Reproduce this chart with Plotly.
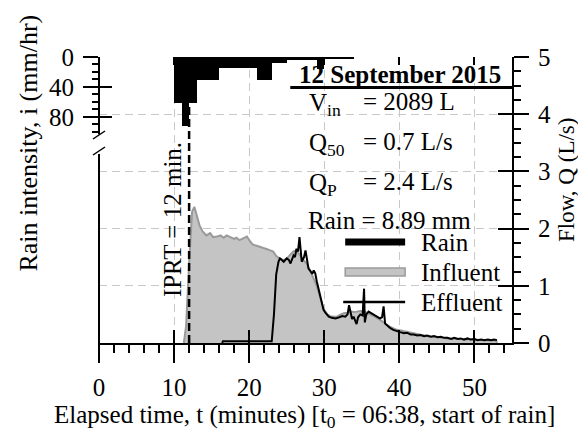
import plotly.graph_objects as go

# ---------------- data ----------------
rain_start = [10, 11, 12, 13, 16, 21, 23, 25, 29, 30]
rain_end   = [11, 12, 13, 16, 21, 23, 25, 29, 30, 34]
rain_i     = [62, 92, 62, 31, 15, 31, 8, 4, 16, 2]   # mm/hr

inf_t = [11.3, 11.6, 12.0, 12.4, 12.7, 13.0, 13.4, 13.8, 14.3, 14.8, 15.2, 15.7, 16.2,
         16.6, 17.0, 17.5, 18.0, 18.3, 18.7, 19.2, 19.7, 20.1, 20.5, 21.0, 21.5, 21.9,
         22.4, 22.8, 23.2, 23.6, 24.0, 24.6, 25.0, 25.5, 25.9, 26.3, 26.8, 27.2, 27.6,
         28.1, 28.5, 29.0, 29.5, 29.9, 30.4, 30.8, 31.3, 31.7, 32.2, 32.6, 33.1, 33.5,
         34.0, 34.4, 34.8, 35.3, 35.7, 36.1, 36.6, 37.0, 37.5, 38.0, 38.4, 38.8, 39.3,
         39.7, 40.2, 41.0, 41.9, 43.0, 44.2, 45.3, 46.4, 47.5, 48.6, 49.7, 50.9, 52.0,
         52.9, 53.0]
inf_q = [0.0, 0.3, 1.4, 2.3, 2.38, 2.25, 2.05, 1.95, 1.88, 1.92, 1.85, 1.86, 1.88,
         1.84, 1.88, 1.85, 1.82, 1.84, 1.80, 1.83, 1.86, 1.78, 1.72, 1.70, 1.67, 1.66,
         1.64, 1.62, 1.60, 1.52, 1.48, 1.45, 1.47, 1.55, 1.60, 1.62, 1.52, 1.45, 1.40,
         1.27, 1.15, 1.00, 0.78, 0.60, 0.50, 0.47, 0.46, 0.46, 0.50, 0.52, 0.53, 0.55,
         0.54, 0.55, 0.56, 0.55, 0.53, 0.50, 0.47, 0.44, 0.40, 0.35, 0.31, 0.28, 0.25,
         0.23, 0.22, 0.19, 0.17, 0.14, 0.11, 0.10, 0.08, 0.075, 0.07, 0.06, 0.05, 0.045,
         0.04, 0.0]

eff_t = [16.4, 16.5, 23.0, 23.3, 23.6, 23.9, 24.1, 24.4, 24.6, 25.0, 25.3, 25.5, 25.9,
         26.1, 26.3, 26.5, 26.7, 27.0, 27.3, 27.5, 27.7, 27.9, 28.2, 28.4, 28.6, 28.8,
         29.0, 29.3, 29.5, 29.7, 29.9, 30.2, 30.6, 31.0, 31.5, 32.0, 32.4, 32.8, 33.1,
         33.3, 33.5, 33.7, 33.9, 34.1, 34.3, 34.5, 34.8, 35.1, 35.3, 35.4, 35.6, 35.9,
         36.3, 36.6, 37.0, 37.4, 37.7, 37.9, 38.1, 38.4, 38.8, 39.2, 39.7, 40.1, 40.6,
         41.0, 41.5, 41.9, 42.4, 42.8, 43.3, 43.7, 44.2, 44.6, 45.1, 45.5, 46.0, 46.4,
         46.9, 47.3, 47.8, 48.2, 48.6, 49.1, 49.5, 50.0, 50.4, 50.9, 51.3, 51.8, 52.2,
         52.6, 53.0]
eff_q = [0.0, 0.03, 0.03, 0.5, 1.2, 1.42, 1.48, 1.45, 1.42, 1.48, 1.45, 1.39, 1.53,
         1.50, 1.65, 1.60, 1.85, 1.42, 1.50, 1.62, 1.45, 1.30, 1.25, 1.21, 1.27, 1.22,
         1.08, 0.92, 0.80, 0.66, 0.58, 0.52, 0.46, 0.44, 0.43, 0.45, 0.47, 0.46, 0.50,
         0.66, 0.55, 0.42, 0.46, 0.40, 0.33, 0.45, 0.50, 0.48, 0.95, 0.36, 0.50, 0.55,
         0.52, 0.50, 0.46, 0.43, 0.45, 0.64, 0.34, 0.30, 0.26, 0.23, 0.20, 0.19, 0.17,
         0.18, 0.15, 0.15, 0.13, 0.14, 0.12, 0.13, 0.11, 0.12, 0.10, 0.11, 0.09, 0.09,
         0.07, 0.09, 0.07, 0.08, 0.06, 0.08, 0.06, 0.07, 0.05, 0.06, 0.05, 0.06, 0.05,
         0.06, 0.05]

x_ticks = [0, 10, 20, 30, 40, 50]
flow_ticks = [0, 1, 2, 3, 4, 5]
rain_ticks = [0, 40, 80]
rain_minor = [0, 10, 20, 30, 40, 50, 60, 70, 80, 90, 100]
legend_names = ["Rain", "Influent", "Effluent"]

# ---------------- layout geometry ----------------
W, H = 578, 431
L, R, T, B = 98.5, 66, 57, 88
pw, ph = W - L - R, H - T - B
RAIN_MAX = 381.7

def xp(px):
    return (px - L) / pw

def yp(py):
    return (H - B - py) / ph

FONT = "Liberation Serif"
F = 25

rain_center = [(s + e) / 2 for s, e in zip(rain_start, rain_end)]
rain_width = [e - s for s, e in zip(rain_start, rain_end)]

fig = go.Figure()

fig.add_trace(go.Scatter(x=inf_t, y=inf_q, mode="lines", name="Influent", fill="tozeroy",
                         fillcolor="#c4c4c4", line=dict(color="#9a9a9a", width=2),
                         xaxis="x", yaxis="y", showlegend=False))
fig.add_trace(go.Scatter(x=eff_t, y=eff_q, mode="lines", name="Effluent",
                         line=dict(color="black", width=2), xaxis="x", yaxis="y",
                         showlegend=False))
fig.add_trace(go.Bar(x=rain_center, y=rain_i, width=rain_width, base=0, name="Rain",
                     marker=dict(color="black", line=dict(width=0)), showlegend=False,
                     xaxis="x", yaxis="y2"))
# helper traces to activate tick-only axes
fig.add_trace(go.Scatter(x=[None], y=[None], xaxis="x3", yaxis="y3", showlegend=False))
fig.add_trace(go.Scatter(x=[None], y=[None], xaxis="x4", yaxis="y4", showlegend=False))

tickfont = dict(family=FONT, size=F, color="black")
common_x = dict(range=[0, 55], tickvals=x_ticks, tickwidth=2, tickcolor="black",
                zeroline=False, fixedrange=True, automargin=False)

fig.update_layout(
    width=W, height=H,
    margin=dict(l=L, r=R, t=T, b=B, pad=0, autoexpand=False),
    paper_bgcolor="white", plot_bgcolor="white",
    font=dict(family=FONT, size=F, color="black"),
    showlegend=False,
    bargap=0,
    xaxis=dict(**common_x, side="bottom", anchor="y", ticks="outside", ticklen=18,
               showline=True, linewidth=2, linecolor="black",
               showgrid=True, gridcolor="#c8c8c8", gridwidth=1, griddash="8px,5px",
               tickfont=tickfont, ticklabelstandoff=3,
               minor=dict(dtick=2, ticks="outside", ticklen=8, tickwidth=2,
                          tickcolor="black", showgrid=False)),
    xaxis2=dict(**common_x, side="top", overlaying="x", anchor="y", ticks="outside",
                ticklen=17, showline=True, linewidth=2, linecolor="black", showgrid=False,
                tickfont=tickfont, ticklabelstandoff=0,
                minor=dict(dtick=2, ticks="outside", ticklen=7, tickwidth=2,
                           tickcolor="black", showgrid=False)),
    xaxis3=dict(**common_x, side="bottom", overlaying="x", anchor="y", ticks="inside",
                ticklen=13, showline=False, showgrid=False, showticklabels=False),
    xaxis4=dict(**common_x, side="top", overlaying="x", anchor="y", ticks="inside",
                ticklen=8, showline=False, showgrid=False, showticklabels=False),
    yaxis=dict(range=[0, 5], tickvals=flow_ticks, side="right", anchor="x",
               ticks="outside", ticklen=15, tickwidth=2, tickcolor="black",
               showline=True, linewidth=2, linecolor="black", zeroline=False,
               showgrid=True, gridcolor="#c8c8c8", gridwidth=1, griddash="8px,5px",
               tickfont=tickfont, ticklabelstandoff=4, automargin=False, fixedrange=True,
               minor=dict(dtick=0.25, ticks="outside", ticklen=7, tickwidth=2,
                          tickcolor="black", showgrid=False)),
    yaxis3=dict(range=[0, 5], tickvals=flow_ticks, side="right", overlaying="y",
                anchor="x", ticks="inside", ticklen=14, tickwidth=2, tickcolor="black",
                showline=False, showgrid=False, zeroline=False, showticklabels=False,
                automargin=False, fixedrange=True),
    yaxis2=dict(range=[RAIN_MAX, 0], tickvals=rain_ticks, side="left", overlaying="y",
                anchor="x", ticks="outside", ticklen=15, tickwidth=2, tickcolor="black",
                showline=False, showgrid=False, zeroline=False, tickfont=tickfont,
                ticklabelstandoff=4, automargin=False, fixedrange=True,
                minor=dict(tickmode="array", tickvals=rain_minor, ticks="outside",
                           ticklen=6, tickwidth=2, tickcolor="black", showgrid=False)),
    yaxis4=dict(range=[RAIN_MAX, 0], tickvals=rain_ticks, side="left", overlaying="y",
                anchor="x", ticks="inside", ticklen=13, tickwidth=2, tickcolor="black",
                showline=False, showgrid=False, zeroline=False, showticklabels=False,
                automargin=False, fixedrange=True),
)

# left axis (broken)
fig.add_shape(type="line", xref="paper", yref="y2", x0=0, x1=0, y0=0, y1=103,
              line=dict(color="black", width=2))
fig.add_shape(type="line", xref="paper", yref="paper", x0=0, x1=0, y0=yp(350), y1=yp(154),
              line=dict(color="black", width=2))
for cy in (135, 151):
    fig.add_shape(type="line", xref="paper", yref="paper", xsizemode="pixel",
                  ysizemode="pixel", xanchor=0, yanchor=yp(cy),
                  x0=-6, x1=6, y0=-4, y1=4, line=dict(color="black", width=1.5))

# IPRT line
fig.add_shape(type="line", xref="x", yref="paper", x0=12, x1=12, y0=0, y1=1,
              line=dict(color="black", width=2.5, dash="8px,4px"), layer="above")

# title underline
fig.add_shape(type="line", xref="paper", yref="paper", x0=xp(290), x1=1,
              y0=yp(87.5), y1=yp(87.5), line=dict(color="black", width=3))

def add(text, x, y, xanchor="center", yanchor="middle", angle=0, size=F, **kw):
    fig.add_annotation(text=text, x=x, y=y, xref=kw.pop("xref", "paper"), yref="paper",
                       xanchor=xanchor, yanchor=yanchor, textangle=angle,
                       showarrow=False, font=dict(family=FONT, size=size, color="black"),
                       **kw)

add("Rain intensity, i (mm/hr)", xp(27), yp(143), angle=-90, size=26)
add("Flow, Q (L/s)", xp(566), yp(180), angle=-90, size=23)
add("Elapsed time, t (minutes) [t<sub>0</sub> = 06:38, start of rain]", xp(304), yp(416),
    size=25)
add("IPRT = 12 min.", 12, yp(220), angle=-90, xref="x", xshift=-17, size=25)
add("<b>12 September 2015</b>", xp(400), yp(74), size=25)
add("V<sub>in</sub>", xp(307), yp(104), xanchor="left")
add("= 2089 L", xp(361), yp(101), xanchor="left")
add("Q<sub>50</sub>", xp(307), yp(144), xanchor="left")
add("= 0.7 L/s", xp(361), yp(141), xanchor="left")
add("Q<sub>P</sub>", xp(307), yp(184), xanchor="left")
add("= 2.4 L/s", xp(361), yp(181), xanchor="left")
add("Rain = 8.89 mm", xp(306), yp(220), xanchor="left")

# legend (symbols + labels)
leg_y = [242, 272, 302]
fig.add_shape(type="line", xref="paper", yref="paper", x0=xp(345), x1=xp(405),
              y0=yp(leg_y[0]), y1=yp(leg_y[0]), line=dict(color="black", width=7))
fig.add_shape(type="rect", xref="paper", yref="paper", x0=xp(345), x1=xp(405),
              y0=yp(leg_y[1] + 4), y1=yp(leg_y[1] - 4), fillcolor="#c4c4c4",
              line=dict(color="#9a9a9a", width=1.5))
fig.add_shape(type="line", xref="paper", yref="paper", x0=xp(343), x1=xp(405),
              y0=yp(leg_y[2]), y1=yp(leg_y[2]), line=dict(color="black", width=2.5))
for name, ly in zip(legend_names, leg_y):
    add(name, xp(419), yp(ly), xanchor="left")

fig.write_html("out.html", config={"displayModeBar": False},
               post_script="document.body.style.margin='0';document.body.style.overflow='hidden';")
